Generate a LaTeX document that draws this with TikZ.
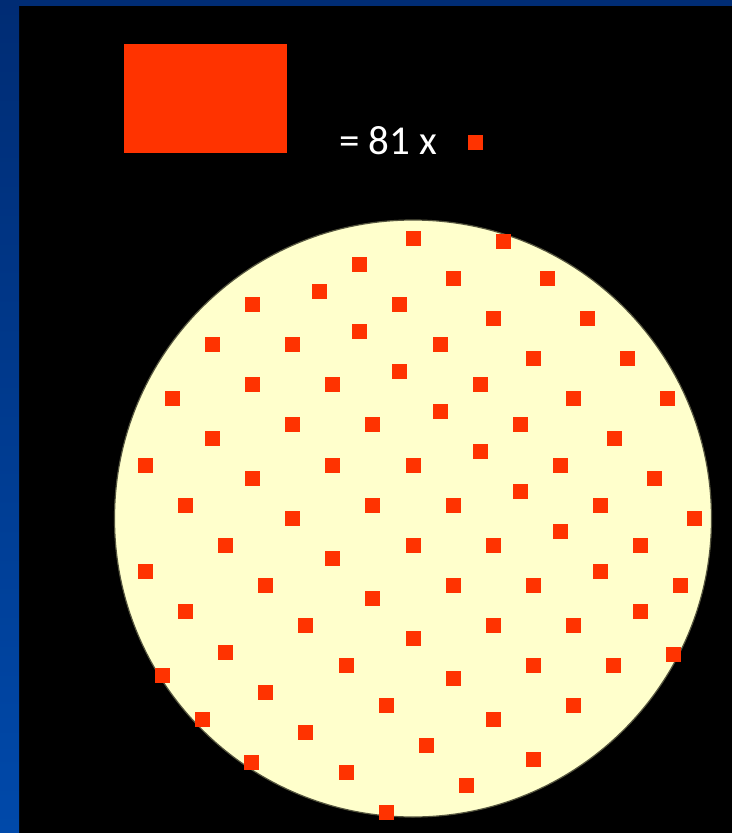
\documentclass[tikz,border=0pt]{standalone}
\usepackage{fontspec}
\setmainfont{Carlito}
\definecolor{dotred}{HTML}{FF3300}
\definecolor{pale}{HTML}{FFFFCC}
\definecolor{navytop}{HTML}{002C74}
\definecolor{navybot}{HTML}{0049AA}
\definecolor{rim}{HTML}{55553F}
\tikzset{
  dot/.style={fill=dotred},
  label81/.style={text=white, font=\fontsize{41}{46}\selectfont, inner sep=0pt, anchor=base west}
}
\begin{document}
\begin{tikzpicture}[x=1pt,y=-1pt]
\useasboundingbox (0,0) rectangle (732,833);
% frame
\fill[black] (0,0) rectangle (732,833);
\shade[top color=navytop, bottom color=navybot] (0,0) rectangle (19,833);
\fill[navytop] (0,0) rectangle (732,6);
% big rectangle and legend
\fill[dot] (124,44) rectangle (287,153);
\node[label81] (eq) at (339,154) {= 81 x};
\fill[dot] (468,135) rectangle (483,150);
% disc
\filldraw[fill=pale, draw=rim, line width=1.2pt] (413,518.5) circle (298.5);
% squares
\foreach \x/\y in {
413/238, 503/241, 359/264, 453/278, 547/278, 319/291, 252/304, 399/304,
493/318, 587/318, 359/331, 212/344, 292/344, 440/344, 533/358, 627/358,
399/371, 252/384, 332/384, 480/384, 172/398, 573/398, 667/398, 440/411,
292/424, 372/424, 520/424, 212/438, 614/438, 480/451, 145/465, 332/465,
413/465, 560/465, 252/478, 654/478, 520/491, 185/505, 372/505, 453/505,
600/505, 292/518, 694/518, 560/531, 225/545, 413/545, 493/545, 640/545,
332/558, 145/571, 600/571, 265/585, 453/585, 533/585, 680/585, 372/598,
185/611, 640/611, 305/625, 493/625, 573/625, 413/638, 225/652, 673/654,
346/665, 533/665, 613/665, 162/675, 453/678, 265/692, 386/705, 573/705,
202/719, 493/719, 305/732, 426/745, 533/759, 251/762, 346/772, 466/785,
386/812}
  \fill[dot] (\x-7.5,\y-7.5) rectangle (\x+7.5,\y+7.5);
\end{tikzpicture}
\end{document}
